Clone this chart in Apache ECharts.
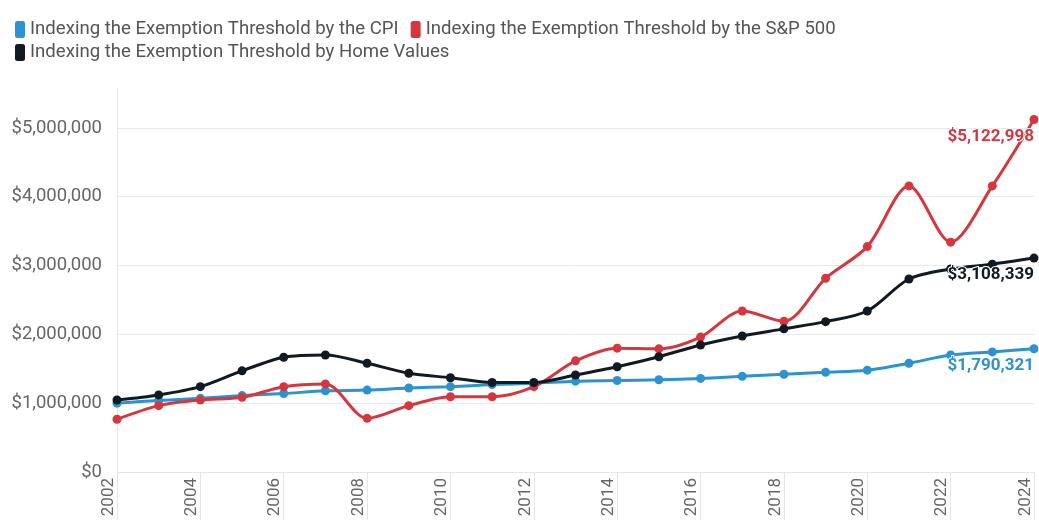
<!DOCTYPE html>
<html>
<head>
<meta charset="utf-8">
<script src="https://cdn.jsdelivr.net/npm/echarts@6/dist/echarts.min.js"></script>
<style>
  html, body { margin: 0; padding: 0; background: #fff; }
  #chart { width: 1039px; height: 521px; }
</style>
</head>
<body>
<div id="chart"></div>
<script>
// 数据
var years = ['2002', '2003', '2004', '2005', '2006', '2007', '2008', '2009', '2010', '2011', '2012', '2013',
  '2014', '2015', '2016', '2017', '2018', '2019', '2020', '2021', '2022', '2023', '2024']

var cpiValues = [1000000, 1040000, 1070000, 1110000, 1140000, 1180000, 1190000, 1220000, 1240000, 1270000, 1290000, 1320000,
  1330000, 1340000, 1360000, 1390000, 1420000, 1450000, 1480000, 1580000, 1700000, 1745000, 1790321]

var spValues = [766000, 964000, 1047000, 1085000, 1240000, 1280000, 780000, 964000, 1094000, 1094000, 1240000, 1615000,
  1800000, 1790000, 1960000, 2340000, 2190000, 2815000, 3275000, 4157000, 3340000, 4157000, 5122998]

var homeValues = [1047000, 1120000, 1240000, 1470000, 1667000, 1700000, 1580000, 1435000, 1370000, 1300000, 1300000, 1410000,
  1530000, 1675000, 1846000, 1977000, 2080000, 2185000, 2340000, 2805000, 2950000, 3020000, 3108339]

var yTickStep = 1000000

var names = [
  'Indexing the Exemption Threshold by the CPI',
  'Indexing the Exemption Threshold by the S&P 500',
  'Indexing the Exemption Threshold by Home Values'
]
var colors = ['#2c93d0', '#d6373e', '#111a22']

function money(v) {
  return '$' + Math.round(v).toString().replace(/\B(?=(\d{3})+(?!\d))/g, ',')
}

// 最后一个点加标签
function withEndLabel(arr, color) {
  return arr.map(function (v, i) {
    if (i !== arr.length - 1) return v
    return {
      value: v,
      label: {
        show: true,
        position: 'bottom',
        align: 'right',
        distance: 4,
        color: color,
        fontFamily: 'Roboto',
        fontWeight: 'bold',
        fontSize: 17,
        textBorderColor: '#fff',
        textBorderWidth: 2,
        formatter: function (p) { return money(p.value) }
      }
    }
  })
}

function makeSeries(idx, arr) {
  return {
    name: names[idx],
    type: 'line',
    smooth: 0.3,
    symbol: 'circle',
    symbolSize: 9,
    color: colors[idx],
    lineStyle: { width: 3, color: colors[idx] },
    itemStyle: { color: colors[idx] },
    data: withEndLabel(arr, colors[idx])
  }
}

var legendText = { color: '#555', fontSize: 18.6, fontFamily: 'Roboto' }

var chart = echarts.init(document.getElementById('chart'))
var option = {
  animation: false,
  backgroundColor: '#fff',
  legend: [
    {
      left: 10, top: 15,
      icon: 'roundRect', itemWidth: 10, itemHeight: 17, itemGap: 12, itemTextGap: 6,
      textStyle: legendText,
      data: [names[0], names[1]]
    },
    {
      left: 10, top: 38,
      icon: 'roundRect', itemWidth: 10, itemHeight: 17, itemTextGap: 6,
      textStyle: legendText,
      data: [names[2]]
    }
  ],
  grid: { left: 117, right: 5, top: 88, bottom: 49, containLabel: false },
  xAxis: {
    type: 'category',
    boundaryGap: false,
    data: years,
    axisLine: { lineStyle: { color: '#e6e6e6' } },
    axisTick: { show: true, interval: 1, length: 48, lineStyle: { color: '#e6e6e6' } },
    axisLabel: {
      interval: 1, rotate: 90, margin: 6,
      verticalAlign: 'bottom',
      color: '#666', fontSize: 17, fontFamily: 'Roboto'
    },
    splitLine: { show: false }
  },
  yAxis: {
    type: 'value',
    min: 0,
    max: 5580000,
    interval: yTickStep,
    axisLine: { show: true, lineStyle: { color: '#e6e6e6' } },
    axisTick: { show: false },
    axisLabel: {
      color: '#666', fontSize: 18.5, fontFamily: 'Roboto', margin: 15,
      showMaxLabel: false,
      formatter: function (v) { return money(v) }
    },
    splitLine: { show: true, showMaxLine: false, lineStyle: { color: '#e9e9e9' } }
  },
  series: [
    makeSeries(0, cpiValues),
    makeSeries(1, spValues),
    makeSeries(2, homeValues)
  ]
}
chart.setOption(option)
</script>
</body>
</html>
